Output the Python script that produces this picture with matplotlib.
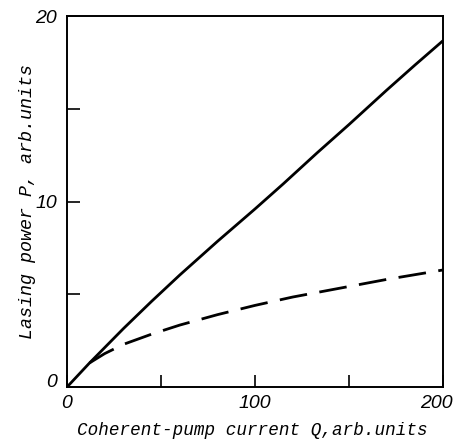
import numpy as np
import matplotlib
matplotlib.use("Agg")
import matplotlib.pyplot as plt
import matplotlib.transforms as mtransforms

# values
q_solid = [0, 12, 30, 45, 60, 80, 100, 115, 133, 150, 170, 185, 200]
p_solid = [0, 1.3, 3.15, 4.62, 6.04, 7.85, 9.6, 10.95, 12.62, 14.15, 16.0, 17.35, 18.67]
q_dash = [12, 20, 30, 45, 60, 80, 100, 120, 140, 170, 200]
p_dash = [1.3, 1.8, 2.3, 2.85, 3.34, 3.9, 4.4, 4.85, 5.23, 5.8, 6.31]

x_ticks = [0, 50, 100, 150, 200]
x_ticklabels = ["0", "", "100", "", "200"]
y_ticks = [0, 5, 10, 15, 20]
y_ticklabels = ["0", "", "10", "", "20"]

plt.rcParams['font.family'] = ['Liberation Mono', 'DejaVu Sans Mono']
plt.rcParams['lines.scale_dashes'] = False

fig = plt.figure(figsize=(4.56, 4.45), dpi=100)
ax = fig.add_axes([0.147, 0.1303, 0.8245, 0.8337])

ax.plot(q_solid, p_solid, color='black', lw=2.0, solid_capstyle='butt', solid_joinstyle='round')
ax.plot(q_dash, p_dash, color='black', lw=2.0, dashes=(20, 9))

ax.set_xlim(0, 200)
ax.set_ylim(0, 20)
ax.set_xticks(x_ticks)
ax.set_xticklabels(x_ticklabels, fontstyle='italic', fontsize=14, family='Liberation Sans')
ax.set_yticks(y_ticks)
ax.set_yticklabels(y_ticklabels, fontstyle='italic', fontsize=14, family='Liberation Sans')
ax.tick_params(direction='in', length=9, width=1.2)
ax.tick_params(axis='x', pad=5.5)
ax.tick_params(axis='y', pad=7)

# nudge corner labels like the original
ax.get_yticklabels()[0].set_verticalalignment('baseline')
lab = ax.get_xticklabels()[-1]
lab.set_transform(lab.get_transform() + mtransforms.ScaledTranslation(-0.07, 0, fig.dpi_scale_trans))

for s in ax.spines.values():
    s.set_linewidth(1.4)

ax.set_xlabel('Coherent-pump current Q,arb.units', fontstyle='italic', fontsize=12.7, va='center')
ax.xaxis.set_label_coords(0.492, -0.116)
ax.set_ylabel('Lasing power P, arb.units', fontstyle='italic', fontsize=13.2, va='center')
ax.yaxis.set_label_coords(-0.105, 0.5)

fig.savefig('out.png', dpi=100)
